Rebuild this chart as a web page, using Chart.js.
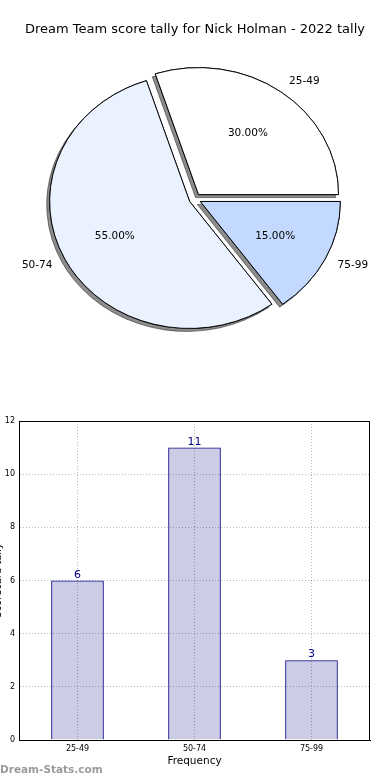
<!DOCTYPE html>
<html>
<head>
<meta charset="utf-8">
<script src="https://cdn.jsdelivr.net/npm/chart.js@4.4.0/dist/chart.umd.min.js"></script>
<style>
    body { margin: 0; background: #fff; width: 390px; height: 780px; overflow: hidden; position: relative; }
    #pie { position: absolute; left: 0; top: 0; }
    #bar { position: absolute; left: -10px; top: 380px; }
    #mark { position: absolute; left: 0; top: 763px; font: bold 10.5px 'DejaVu Sans'; color: #9a9a9a; }
</style>
</head>
<body>
<canvas id="pie" width="390" height="380"></canvas>
<canvas id="bar" width="400" height="400"></canvas>
<div id="mark">Dream-Stats.com</div>
<script>
// data
const categories = ['25-49', '50-74', '75-99'];
const tallies = [6, 11, 3];
const pieColors = ['#ffffff', '#ebf2ff', '#c4d9ff'];
const yTicks = [0, 2, 4, 6, 8, 10, 12];
const chartTitle = 'Dream Team score tally for Nick Holman - 2022 tally';

Chart.defaults.font.family = "'DejaVu Sans', sans-serif";
Chart.defaults.color = '#000';

const total = tallies.reduce((a, b) => a + b, 0);
const pieSquash = 127 / 140;   // pie is drawn a bit flattened, like the original
const explode = 6;

// matplotlib goes counter-clockwise from 3 o'clock, chart.js goes clockwise,
// so feed the slices in reverse order
const order = [2, 1, 0];

const pieDraw = {
    id: 'pieDraw',
    beforeDatasetDraw(chart, args) {
        const ctx = chart.ctx;
        const arcs = args.meta.data;
        const cx = arcs[0].x, cy = arcs[0].y;
        const drawArcs = () => arcs.forEach(arc => {
            const mid = (arc.startAngle + arc.endAngle) / 2;
            ctx.save();
            ctx.translate(Math.cos(mid) * explode, Math.sin(mid) * explode);
            arc.draw(ctx, chart.chartArea);
            ctx.restore();
        });
        ctx.save();
        ctx.translate(cx, cy);
        ctx.scale(1, pieSquash);
        ctx.translate(-cx, -cy);
        // first pass only for the shadow, second pass paints the slices clean
        ctx.save();
        ctx.shadowColor = 'rgba(0,0,0,0.45)';
        ctx.shadowOffsetX = -3;
        ctx.shadowOffsetY = 3;
        ctx.shadowBlur = 0;
        drawArcs();
        ctx.restore();
        drawArcs();
        ctx.restore();
        return false;
    },
    afterDraw(chart) {
        const ctx = chart.ctx;
        const meta = chart.getDatasetMeta(0);
        ctx.save();
        ctx.fillStyle = '#000';
        ctx.textBaseline = 'middle';
        ctx.font = "10.5px 'DejaVu Sans'";
        meta.data.forEach((arc, j) => {
            const i = order[j];
            const mid = (arc.startAngle + arc.endAngle) / 2;
            const at = k => ({
                x: arc.x + Math.cos(mid) * (k * arc.outerRadius + explode),
                y: arc.y + Math.sin(mid) * (k * arc.outerRadius + explode) * pieSquash
            });
            const p = at(0.6);
            ctx.textAlign = 'center';
            ctx.fillText((tallies[i] / total * 100).toFixed(2) + '%', p.x, p.y);
            const q = at(1.1);
            ctx.textAlign = Math.cos(mid) >= 0 ? 'left' : 'right';
            ctx.fillText(categories[i], q.x, q.y);
        });
        ctx.restore();
    }
};

new Chart(document.getElementById('pie'), {
    type: 'pie',
    data: {
        labels: order.map(i => categories[i]),
        datasets: [{
            data: order.map(i => tallies[i]),
            backgroundColor: order.map(i => pieColors[i]),
            borderColor: '#000',
            borderWidth: 1,
        }]
    },
    options: {
        responsive: false,
        animation: false,
        rotation: 90,
        layout: { padding: { top: 9, bottom: 40.5, left: 0, right: 0 } },
        plugins: {
            legend: { display: false },
            tooltip: { enabled: false },
            title: {
                display: true,
                text: chartTitle,
                color: '#000',
                font: { size: 13, weight: 'normal' },
                padding: { top: 13.2, bottom: 20.7 },
            },
        },
    },
    plugins: [pieDraw],
});

const barExtras = {
    id: 'barExtras',
    afterDatasetsDraw(chart) {
        const ctx = chart.ctx;
        ctx.save();
        ctx.fillStyle = '#000080';
        ctx.font = "11px 'DejaVu Sans'";
        ctx.textAlign = 'center';
        ctx.textBaseline = 'alphabetic';
        chart.getDatasetMeta(0).data.forEach((bar, i) => {
            ctx.fillText(String(tallies[i]), bar.x, bar.y - 3);
        });
        ctx.restore();
    },
    afterDraw(chart) {
        const a = chart.chartArea;
        const ctx = chart.ctx;
        ctx.save();
        ctx.strokeStyle = '#000';
        ctx.lineWidth = 1;
        ctx.strokeRect(Math.round(a.left) + 0.5, Math.round(a.top) + 0.5,
            Math.round(a.right - a.left) - 1, Math.round(a.bottom - a.top));
        ctx.restore();
    }
};

new Chart(document.getElementById('bar'), {
    type: 'bar',
    data: {
        labels: categories,
        datasets: [{
            data: tallies,
            backgroundColor: 'rgba(0,0,128,0.2)',
            borderColor: '#000080',
            borderWidth: 1,
            barPercentage: 0.45,
            categoryPercentage: 1,
        }]
    },
    options: {
        responsive: false,
        animation: false,
        layout: { padding: { top: 41, right: 20, left: 0, bottom: 0 } },
        plugins: {
            legend: { display: false },
            tooltip: { enabled: false },
        },
        scales: {
            x: {
                grid: { offset: false, color: 'rgba(0,0,0,0.28)', drawTicks: false },
                border: { color: '#000', dash: [1, 2] },
                ticks: { font: { size: 8 }, color: '#000', padding: 4 },
                title: {
                    display: true, text: 'Frequency', color: '#000',
                    font: { size: 10.5 }, padding: { top: 0, bottom: 12 },
                },
                afterFit: s => { s.height = 40; },
            },
            y: {
                min: 0,
                max: 12,
                afterBuildTicks: s => { s.ticks = yTicks.map(v => ({ value: v })); },
                grid: { color: 'rgba(0,0,0,0.28)', drawTicks: false },
                border: { color: '#000', dash: [1, 2] },
                ticks: { font: { size: 8 }, color: '#000', padding: 4 },
                title: {
                    display: true, text: 'Scorecard tally', color: '#000',
                    font: { size: 10 }, padding: { top: 2.5, bottom: 0 },
                },
                afterFit: s => { s.width = 29; },
            },
        },
    },
    plugins: [barExtras],
});
</script>
</body>
</html>
